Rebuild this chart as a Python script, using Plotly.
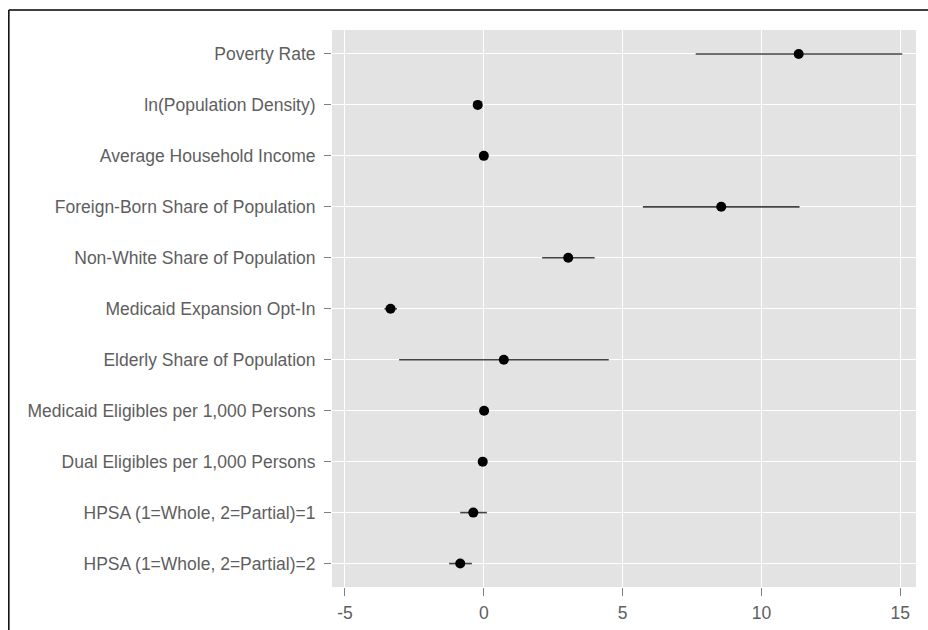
import plotly.graph_objects as go

categories = [
    "Poverty Rate",
    "ln(Population Density)",
    "Average Household Income",
    "Foreign-Born Share of Population",
    "Non-White Share of Population",
    "Medicaid Expansion Opt-In",
    "Elderly Share of Population",
    "Medicaid Eligibles per 1,000 Persons",
    "Dual Eligibles per 1,000 Persons",
    "HPSA (1=Whole, 2=Partial)=1",
    "HPSA (1=Whole, 2=Partial)=2",
]
estimates = [11.34, -0.22, 0.0, 8.55, 3.04, -3.36, 0.72, 0.01, -0.04, -0.38, -0.85]
lower = [7.63, -0.22, 0.0, 5.73, 2.10, -3.58, -3.05, 0.01, -0.04, -0.85, -1.25]
upper = [15.07, -0.22, 0.0, 11.37, 3.99, -3.13, 4.50, 0.01, -0.04, 0.11, -0.43]
x_ticks = [-5, 0, 5, 10, 15]

err_plus = [u - e for u, e in zip(upper, estimates)]
err_minus = [e - l for e, l in zip(estimates, lower)]

fig = go.Figure()
fig.add_trace(go.Scatter(
    x=estimates, y=categories, mode="markers",
    marker=dict(color="black", size=10),
    error_x=dict(type="data", symmetric=False, array=err_plus, arrayminus=err_minus,
                 color="#444444", thickness=1.6, width=0),
    showlegend=False, hoverinfo="x+y",
))

L, R, T, B = 332, 12.3, 30, 43
W, H = 928, 630
pw, ph = W - L - R, H - T - B

fig.update_layout(
    width=W, height=H,
    margin=dict(l=L, r=R, t=T, b=B, pad=0, autoexpand=False),
    paper_bgcolor="white", plot_bgcolor="#E3E3E3",
    font=dict(family="Liberation Sans, Arial, sans-serif", size=17.5, color="#5e5e5e"),
    xaxis=dict(range=[-5.468, 15.565], tickvals=x_ticks, ticktext=[str(v) for v in x_ticks],
               showgrid=True, gridcolor="white", gridwidth=1.4, zeroline=False,
               ticks="outside", ticklen=8, tickcolor="#7f7f7f", tickwidth=1,
               ticklabelstandoff=2, showline=False, fixedrange=True, automargin=False),
    yaxis=dict(categoryorder="array", categoryarray=categories,
               range=[10.46, -0.47], showgrid=True, gridcolor="white", gridwidth=1.4,
               zeroline=False, ticks="outside", ticklen=7, tickcolor="#7f7f7f",
               tickwidth=1, ticklabelstandoff=5, showline=False, fixedrange=True,
               automargin=False),
    shapes=[
        dict(type="line", xref="paper", yref="paper",
             x0=(9 - L) / pw, x1=2, y0=(H - B - 10) / ph, y1=(H - B - 10) / ph,
             line=dict(color="black", width=1.5)),
        dict(type="line", xref="paper", yref="paper",
             x0=(9 - L) / pw, x1=(9 - L) / pw, y0=(H - B - 10) / ph, y1=-1,
             line=dict(color="black", width=1.5)),
    ],
)

fig.write_html("out.html")
